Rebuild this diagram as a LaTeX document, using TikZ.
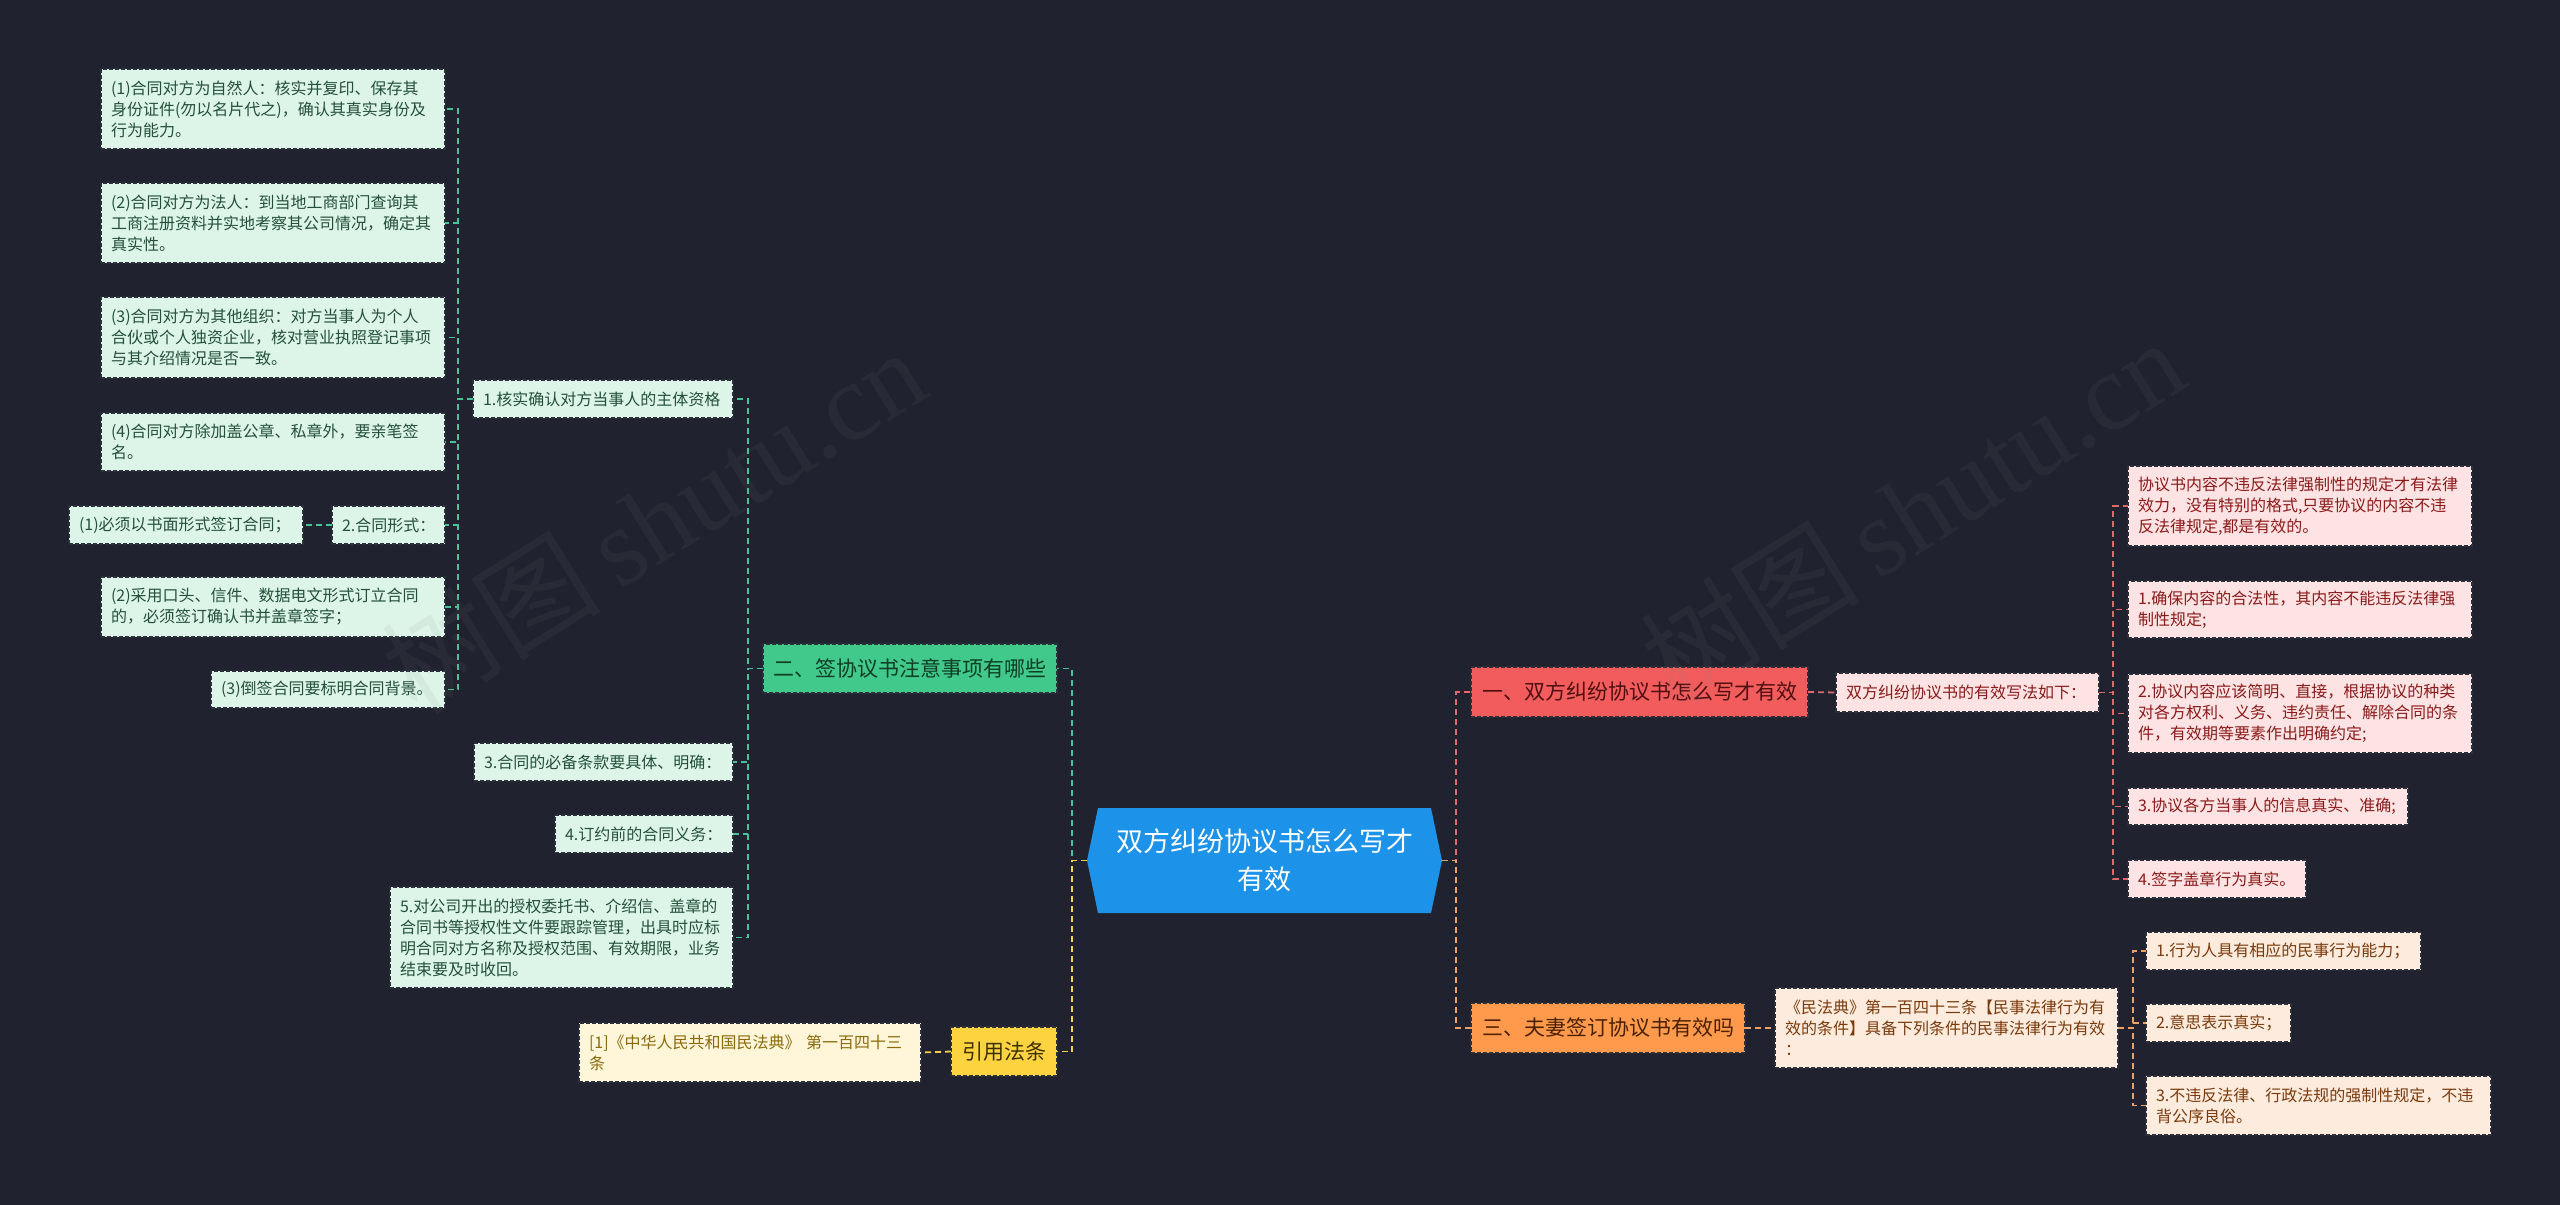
\documentclass[tikz,border=0pt]{standalone}
\usepackage{fontspec}
\setmainfont{Noto Sans CJK SC}
\newfontfamily\wmserif{Liberation Serif}
\usetikzlibrary{calc}
\definecolor{bgc}{HTML}{20232F}
\definecolor{rootfill}{HTML}{1C92E8}
\definecolor{gfill}{HTML}{40C98A}
\definecolor{gleaf}{HTML}{DDF5E8}
\definecolor{gtext}{HTML}{24503A}
\definecolor{gtitle}{HTML}{0F3D26}
\definecolor{gline}{HTML}{45C495}
\definecolor{rfill}{HTML}{F25C5C}
\definecolor{rleaf}{HTML}{FDE3E3}
\definecolor{rtext}{HTML}{8C1A1A}
\definecolor{rtitle}{HTML}{4E1010}
\definecolor{rline}{HTML}{E06A6A}
\definecolor{ofill}{HTML}{FF9A4C}
\definecolor{oleaf}{HTML}{FDEBDD}
\definecolor{otext}{HTML}{7A3A0C}
\definecolor{otitle}{HTML}{4A2100}
\definecolor{oline}{HTML}{F0A062}
\definecolor{yfill}{HTML}{FDD33F}
\definecolor{yleaf}{HTML}{FFF6DA}
\definecolor{ytext}{HTML}{8A6A0A}
\definecolor{ytitle}{HTML}{3D3000}
\definecolor{yline}{HTML}{F2D04A}
\definecolor{bord}{HTML}{2B2F3A}
\newcommand{\boxat}[7]{%
  \pgfmathsetmacro{\tw}{#4-#2-20}%
  \pgfmathsetmacro{\bh}{#5-#3}%
  \node[#1, text width=\tw pt, minimum height=\bh pt] (#6) at (#2,#3) {#7};}
\tikzset{
  nbase/.style={anchor=north west, inner xsep=10pt, inner ysep=0pt, outer sep=0pt,
     draw=bord, line width=1.1pt, dash pattern=on 4pt off 2pt},
  leaf/.style={nbase, align=left, font=\fontsize{16}{21}\selectfont},
  title/.style={nbase, align=center, font=\fontsize{21}{26}\selectfont},
  gleafs/.style={leaf, fill=gleaf, text=gtext},
  rleafs/.style={leaf, fill=rleaf, text=rtext},
  oleafs/.style={leaf, fill=oleaf, text=otext},
  yleafs/.style={leaf, fill=yleaf, text=ytext},
  gtit/.style={title, fill=gfill, text=gtitle},
  rtit/.style={title, fill=rfill, text=rtitle},
  otit/.style={title, fill=ofill, text=otitle},
  ytit/.style={title, fill=yfill, text=ytitle},
  conn/.style={line width=1.8pt, dash pattern=on 6pt off 4pt},
  gconn/.style={conn, draw=gline},
  rconn/.style={conn, draw=rline},
  oconn/.style={conn, draw=oline},
  yconn/.style={conn, draw=yline},
  wmark/.style={text=gray, opacity=0.09, rotate=32, inner sep=0pt}
}
\begin{document}
\begin{tikzpicture}[x=1pt,y=-1pt]
\fill[bgc] (0,0) rectangle (2560,1205);
\useasboundingbox (0,0) rectangle (2560,1205);

% root
\fill[rootfill] (1087,860.5) -- (1098,808) -- (1431,808) -- (1442,860.5) -- (1431,913) -- (1098,913) -- cycle;
\node[anchor=north west, minimum width=355pt, minimum height=105pt, inner sep=0pt, outer sep=0pt,
  text width=330pt, align=center, text=white, font=\fontsize{27}{38}\selectfont] (root) at (1087,808)
  {双方纠纷协议书怎么写才\\有效};

% level 1
\boxat{gtit}{763}{644}{1057}{693}{n2}{二、签协议书注意事项有哪些}
\boxat{ytit}{951}{1027}{1057}{1076}{cite}{引用法条}
\boxat{rtit}{1471}{667}{1808}{717}{n1}{一、双方纠纷协议书怎么写才有效}
\boxat{otit}{1471}{1003}{1745}{1053}{n3}{三、夫妻签订协议书有效吗}

% green branch
\boxat{gleafs}{473}{380}{733}{418}{g1}{1.核实确认对方当事人的主体资格}
\boxat{gleafs}{474}{743}{733}{781}{g3}{3.合同的必备条款要具体、明确：}
\boxat{gleafs}{555}{815}{733}{853}{g4}{4.订约前的合同义务：}
\boxat{gleafs}{390}{887}{733}{988}{g5}{5.对公司开出的授权委托书、介绍信、盖章的\\合同书等授权性文件要跟踪管理，出具时应标\\明合同对方名称及授权范围、有效期限，业务\\结束要及时收回。}
\boxat{gleafs}{101}{69}{445}{149}{ga}{(1)合同对方为自然人：核实并复印、保存其\\身份证件(勿以名片代之)，确认其真实身份及\\行为能力。}
\boxat{gleafs}{101}{183}{445}{263}{gb}{(2)合同对方为法人：到当地工商部门查询其\\工商注册资料并实地考察其公司情况，确定其\\真实性。}
\boxat{gleafs}{101}{297}{445}{378}{gc}{(3)合同对方为其他组织：对方当事人为个人\\合伙或个人独资企业，核对营业执照登记事项\\与其介绍情况是否一致。}
\boxat{gleafs}{101}{413}{445}{471}{gd}{(4)合同对方除加盖公章、私章外，要亲笔签\\名。}
\boxat{gleafs}{332}{506}{445}{544}{ge}{2.合同形式：}
\boxat{gleafs}{69}{506}{303}{544}{gf}{(1)必须以书面形式签订合同；}
\boxat{gleafs}{101}{577}{445}{637}{gg}{(2)采用口头、信件、数据电文形式订立合同\\的，必须签订确认书并盖章签字；}
\boxat{gleafs}{211}{671}{445}{708}{gh}{(3)倒签合同要标明合同背景。}

% yellow branch
\boxat{yleafs}{579}{1023}{921}{1082}{y1}{[1]《中华人民共和国民法典》 第一百四十三\\条}

% red branch
\boxat{rleafs}{1836}{673}{2099}{712}{r0}{双方纠纷协议书的有效写法如下：}
\boxat{rleafs}{2128}{466}{2472}{546}{ra}{协议书内容不违反法律强制性的规定才有法律\\效力，没有特别的格式,只要协议的内容不违\\反法律规定,都是有效的。}
\boxat{rleafs}{2128}{581}{2472}{638}{rb}{1.确保内容的合法性，其内容不能违反法律强\\制性规定;}
\boxat{rleafs}{2128}{674}{2472}{753}{rc}{2.协议内容应该简明、直接，根据协议的种类\\对各方权利、义务、违约责任、解除合同的条\\件，有效期等要素作出明确约定;}
\boxat{rleafs}{2128}{788}{2408}{825}{rd}{3.协议各方当事人的信息真实、准确;}
\boxat{rleafs}{2128}{860}{2306}{898}{re}{4.签字盖章行为真实。}

% orange branch
\boxat{oleafs}{1775}{988}{2118}{1068}{o0}{《民法典》第一百四十三条【民事法律行为有\\效的条件】具备下列条件的民事法律行为有效\\：}
\boxat{oleafs}{2146}{932}{2421}{970}{oa}{1.行为人具有相应的民事行为能力；}
\boxat{oleafs}{2146}{1004}{2291}{1042}{ob}{2.意思表示真实；}
\boxat{oleafs}{2146}{1076}{2491}{1135}{oc}{3.不违反法律、行政法规的强制性规定，不违\\背公序良俗。}

% connectors from root
\draw[gconn] (root.west) -- ++(-15,0) |- (n2.east);
\draw[yconn] (root.west) -- ++(-15,0) |- (cite.east);
\draw[rconn] (root.east) -- ++(14,0) |- (n1.west);
\draw[oconn] (root.east) -- ++(14,0) |- (n3.west);

% green connectors
\foreach \c in {g1,g3,g4,g5} \draw[gconn] (n2.west) -- ++(-15,0) |- (\c.east);
\foreach \c in {ga,gb,gc,gd,ge,gg,gh} \draw[gconn] (g1.west) -- ++(-15,0) |- (\c.east);
\draw[gconn] (ge.west) -- (gf.east);

% yellow
\draw[yconn] (cite.west) -- (y1.east);

% red
\draw[rconn] (n1.east) -- (r0.west);
\foreach \c in {ra,rb,rc,rd,re} \draw[rconn] (r0.east) -- ++(14,0) |- (\c.west);

% orange
\draw[oconn] (n3.east) -- (o0.west);
\foreach \c in {oa,ob,oc} \draw[oconn] (o0.east) -- ++(15,0) |- (\c.west);

% watermarks
\node[wmark] (wm1) at (653,520) {\fontsize{110}{110}\selectfont 树图\,{\wmserif shutu.cn}};
\node[wmark] (wm2) at (1912,510) {\fontsize{110}{110}\selectfont 树图\,{\wmserif shutu.cn}};
\end{tikzpicture}
\end{document}
